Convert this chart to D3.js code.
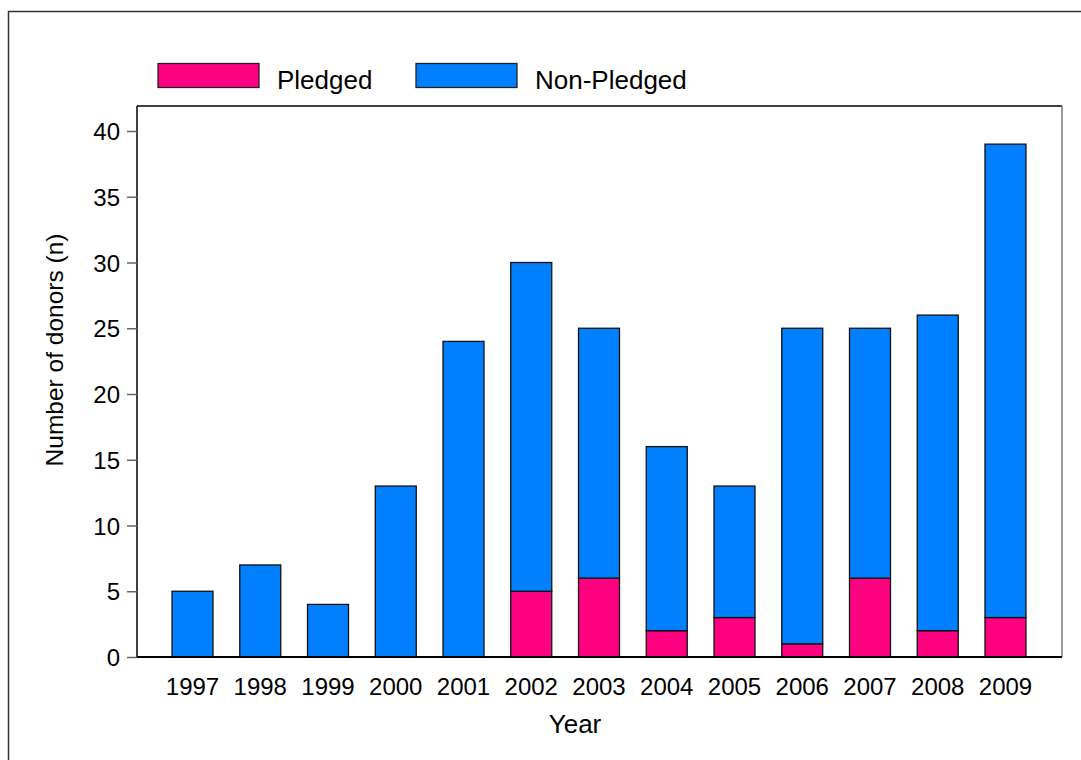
<!DOCTYPE html>
<html><head><meta charset="utf-8">
<script src="https://cdn.jsdelivr.net/npm/d3@7"></script>
<style>body{margin:0;background:#fff}svg{display:block}text{font-family:"Liberation Sans",Arial,sans-serif;fill:#000}</style>
</head><body>
<svg id="c" width="1081" height="760"></svg>
<script>
const years = ["1997","1998","1999","2000","2001","2002","2003","2004","2005","2006","2007","2008","2009"];
const pledged = [0,0,0,0,0,5,6,2,3,1,6,2,3];
const nonPledged = [5,7,4,13,24,25,19,14,10,24,19,24,36];
const seriesNames = ["Pledged","Non-Pledged"];
const seriesColors = ["#FF0080","#0080FF"];
const yTicks = [0,5,10,15,20,25,30,35,40];

const svg = d3.select("#c");
const L = 137, R = 1062, T = 106, B = 657;
const FF = "Liberation Sans, Arial, sans-serif";

// outer frame
svg.append("rect").attr("x",8.5).attr("y",11.5).attr("width",1100).attr("height",800)
  .attr("fill","none").attr("stroke","#333").attr("stroke-width",1.5);

const y = d3.scaleLinear().domain([0,40]).range([B,131]);
const x = d3.scaleBand().domain(years).range([151.7,1046.3]).paddingInner(0.395).paddingOuter(0.3);

// plot frame
svg.append("line").attr("x1",L).attr("x2",R).attr("y1",T).attr("y2",T).attr("stroke","#000").attr("stroke-width",1.5);
svg.append("line").attr("x1",R).attr("x2",R).attr("y1",T).attr("y2",B).attr("stroke","#777").attr("stroke-width",1.5);

const table = years.map((yr,i)=>({year:yr, Pledged:pledged[i], "Non-Pledged":nonPledged[i]}));
const stack = d3.stack().keys(seriesNames)(table);

stack.forEach((s,si)=>{
  svg.append("g").selectAll("rect").data(s.filter(d=>d[1]-d[0]>0)).join("rect")
    .attr("x",d=>x(d.data.year)).attr("width",x.bandwidth())
    .attr("y",d=>y(d[1])).attr("height",d=>y(d[0])-y(d[1]))
    .attr("fill",seriesColors[si]).attr("stroke","#111").attr("stroke-width",1.3);
});

// y axis
const ya = svg.append("g").attr("transform",`translate(${L},0)`)
  .call(d3.axisLeft(y).tickValues(yTicks).tickSize(10).tickPadding(7));
ya.select(".domain").attr("stroke","#000").attr("stroke-width",1.5).attr("d",`M0,${T}V${B}`);
ya.selectAll(".tick line").attr("stroke","#666").attr("stroke-width",1.5);
ya.selectAll("text").style("font-size","24px").attr("dy","0.36em").style("font-family",FF);

// x axis
const xa = svg.append("g").attr("transform",`translate(0,${B})`)
  .call(d3.axisBottom(x).tickSize(0).tickPadding(21));
xa.select(".domain").attr("d",`M${L},0H${R}`).attr("stroke","#000").attr("stroke-width",2.2);
xa.selectAll("text").style("font-size","24px").style("font-family",FF);

svg.append("text").attr("x",575).attr("y",733).attr("text-anchor","middle").style("font-size","26px").text("Year");
svg.append("text").attr("transform","translate(63,350) rotate(-90)").attr("text-anchor","middle").style("font-size","24.5px").text("Number of donors (n)");

// legend
const legX = [158,416];
seriesNames.forEach((n,i)=>{
  svg.append("rect").attr("x",legX[i]).attr("y",63.5).attr("width",101).attr("height",24)
    .attr("fill",seriesColors[i]).attr("stroke","#222").attr("stroke-width",1.3);
  svg.append("text").attr("x",legX[i]+119).attr("y",89).style("font-size","26px").text(n);
});
</script>
</body></html>
